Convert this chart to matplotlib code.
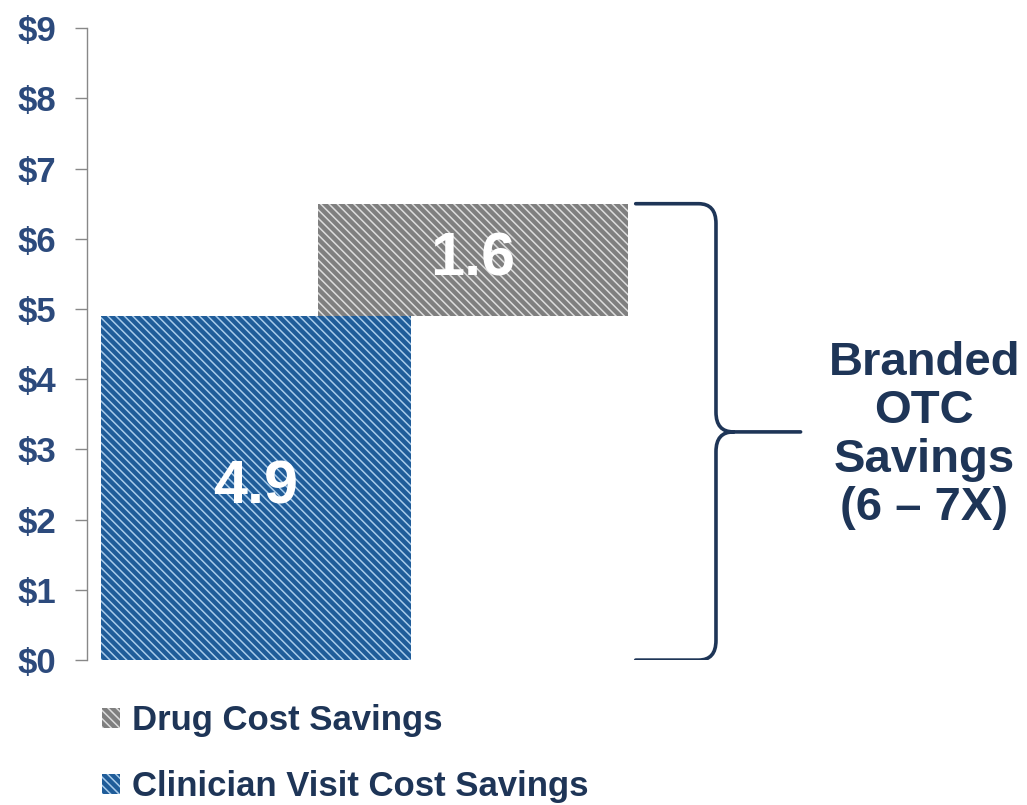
import matplotlib.pyplot as plt
from matplotlib.path import Path
from matplotlib.patches import PathPatch

plt.rcParams['font.family'] = ['Liberation Sans', 'DejaVu Sans']
plt.rcParams['font.weight'] = 'bold'
plt.rcParams['hatch.linewidth'] = 1.1

# data
categories = ['Clinician Visit Cost Savings', 'Drug Cost Savings']
values = [4.9, 1.6]
y_ticks = [0, 1, 2, 3, 4, 5, 6, 7, 8, 9]
y_labels = ['$' + str(t) for t in y_ticks]
brace_text = 'Branded\nOTC\nSavings\n(6 \u2013 7X)'

BLUE = '#1f5c99'
BLUE_HATCH = '#a9cbea'
GRAY = '#7f7f7f'
GRAY_HATCH = '#dcdcdc'
NAVY = '#1e3557'
TICK_COL = '#2c4a7c'

fig = plt.figure(figsize=(10.27, 8.05), dpi=100)
ax = fig.add_axes([0.0847, 0.180, 0.889, 0.785])

# waterfall: clinician from 0, drug stacked on top
bottoms = [0, values[0]]
xpos = [0, 1]
cols = [BLUE, GRAY]
hcols = [BLUE_HATCH, GRAY_HATCH]
bars = []
for i in range(2):
    b = ax.bar(xpos[i], values[i], width=1.43, bottom=bottoms[i], color=cols[i],
               edgecolor=hcols[i], linewidth=0, hatch='\\\\\\\\', label=categories[i])
    bars.append(b)
    ax.text(xpos[i], bottoms[i] + values[i] / 2, str(values[i]), color='white',
            fontsize=44, fontweight='bold', ha='center', va='center')

# brace spanning the total
top = bottoms[1] + values[1]
mid = top / 2
bot = 0
x0, xv, xt = 1.75, 2.12, 2.51
rx, ry = 0.08, 0.28
verts = [(x0, top), (xv - rx, top), (xv, top), (xv, top - ry),
         (xv, mid + ry), (xv, mid), (xv + rx, mid), (xt, mid),
         (xv + rx, mid), (xv, mid), (xv, mid - ry),
         (xv, bot + ry), (xv, bot), (xv - rx, bot), (x0, bot)]
codes = [Path.MOVETO, Path.LINETO, Path.CURVE3, Path.CURVE3,
         Path.LINETO, Path.CURVE3, Path.CURVE3, Path.LINETO,
         Path.MOVETO, Path.CURVE3, Path.CURVE3,
         Path.LINETO, Path.CURVE3, Path.CURVE3, Path.LINETO]
ax.add_patch(PathPatch(Path(verts, codes), facecolor='none', edgecolor=NAVY,
                       linewidth=2.6, capstyle='round', joinstyle='round'))

ax.text(3.08, mid - 0.05, brace_text, color=NAVY, fontsize=34, fontweight='bold',
        ha='center', va='center', linespacing=1.13)

ax.set_xlim(-0.779, 3.429)
ax.set_ylim(0, 9)
ax.set_yticks(y_ticks)
ax.set_yticklabels(y_labels, fontsize=25, color=TICK_COL, fontweight='bold')
ax.set_xticks([])
for s in ['top', 'right', 'bottom']:
    ax.spines[s].set_visible(False)
ax.spines['left'].set_color('#888888')
ax.spines['left'].set_linewidth(1.0)
ax.tick_params(axis='y', length=9, color='#888888', width=1.0, pad=13)

leg = fig.legend([bars[1], bars[0]], [categories[1], categories[0]],
                 loc='upper left', bbox_to_anchor=(0.099, 0.125), frameon=False,
                 fontsize=25, handlelength=0.52, handleheight=0.52,
                 handletextpad=0.35, labelspacing=0.95, borderaxespad=0,
                 borderpad=0)
for t in leg.get_texts():
    t.set_color(NAVY)
    t.set_fontweight('bold')

fig.savefig('out.png', dpi=100)
